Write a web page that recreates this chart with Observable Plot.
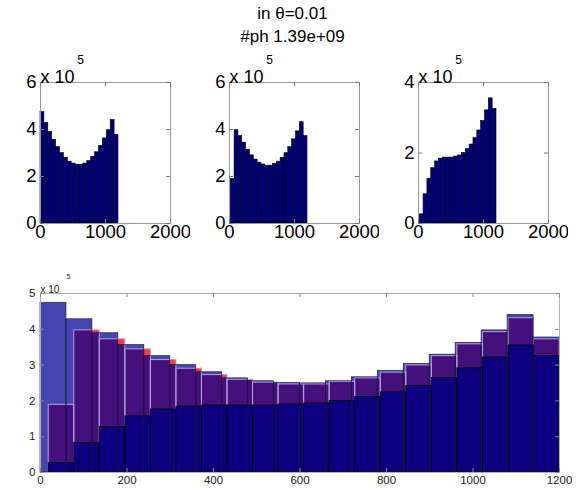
<!DOCTYPE html>
<html>
<head>
<meta charset="utf-8">
<script src="https://cdn.jsdelivr.net/npm/d3@7"></script>
<script src="https://cdn.jsdelivr.net/npm/@observablehq/plot@0.6"></script>
<style>
  html, body { margin: 0; padding: 0; background: #fff; }
  #wrap { position: relative; width: 581px; height: 489px; overflow: hidden; font-family: "Liberation Sans", Arial, sans-serif; }
  .pane { position: absolute; }
  .title { position: absolute; left: 0; width: 581px; text-align: center; font-size: 17px; color: #000; padding-left: 2px; }
</style>
</head>
<body>
<div id="wrap">
  <div class="title" style="top:4px">in θ=0.01</div>
  <div class="title" style="top:27px">#ph 1.39e+09</div>
</div>
<script>
// Histogram counts (units of 1e5), 20 bins each
const seriesA = [4.74, 4.28, 3.89, 3.56, 3.25, 3.00, 2.80, 2.63, 2.55, 2.50, 2.49, 2.55, 2.66, 2.84, 3.03, 3.29, 3.62, 3.97, 4.40, 3.77];
const seriesB = [1.89, 3.97, 3.72, 3.44, 3.14, 2.90, 2.72, 2.59, 2.51, 2.46, 2.46, 2.53, 2.63, 2.79, 2.99, 3.25, 3.58, 3.92, 4.31, 3.72];
const seriesC = [0.26, 0.83, 1.27, 1.57, 1.76, 1.84, 1.87, 1.87, 1.87, 1.90, 1.93, 2.00, 2.11, 2.24, 2.42, 2.64, 2.91, 3.21, 3.55, 3.25];
// bin ranges (data min / max for each histogram)
const rangeA = [0, 1200];
const rangeBC = [19, 1200];
const nBins = 20;
// tick labels
const smallXTicks = [0, 1000, 2000];
const smallYTicks6 = [0, 2, 4, 6];
const smallYTicks4 = [0, 2, 4];
const bigXTicks = [0, 200, 400, 600, 800, 1000, 1200];
const bigYTicks = [0, 1, 2, 3, 4, 5];

function bins(values, range) {
  const w = (range[1] - range[0]) / nBins;
  return values.map((v, i) => ({x1: range[0] + i * w, x2: range[0] + (i + 1) * w, y: v * 1e5}));
}
const dataA = bins(seriesA, rangeA);
const dataB = bins(seriesB, rangeBC);
const dataC = bins(seriesC, rangeBC);

const wrap = document.getElementById("wrap");
function place(svg, left, top) {
  const d = document.createElement("div");
  d.className = "pane";
  d.style.left = left + "px";
  d.style.top = top + "px";
  d.appendChild(svg);
  wrap.appendChild(d);
}

function small(data, ymax, yticks, left) {
  const W = 190, H = 200, mL = 40, mR = 20, mT = 32, mB = 27;
  const iw = W - mL - mR, ih = H - mT - mB;
  const svg = Plot.plot({
    width: W, height: H, marginLeft: mL, marginRight: mR, marginTop: mT, marginBottom: mB,
    style: {fontFamily: "Liberation Sans, Arial, sans-serif", background: "transparent"},
    x: {domain: [0, 2000], label: null},
    y: {domain: [0, ymax * 1e5], label: null},
    marks: [
      Plot.rectY(data, {x1: "x1", x2: "x2", y: "y", fill: "#00007f", stroke: "#000", strokeWidth: 0.6}),
      Plot.frame({stroke: "#9a9a9a"}),
      Plot.tickX(smallXTicks, {x: d => d, insetTop: ih - 4, stroke: "#777"}),
      Plot.tickX(smallXTicks, {x: d => d, insetBottom: ih - 4, stroke: "#777"}),
      Plot.tickY(yticks.map(d => d * 1e5), {y: d => d, insetRight: iw - 4, stroke: "#777"}),
      Plot.tickY(yticks.map(d => d * 1e5), {y: d => d, insetLeft: iw - 4, stroke: "#777"}),
      Plot.axisX(smallXTicks, {tickSize: 0, tickPadding: 1, fontSize: 18.5, fill: "#000", label: null, tickFormat: d => String(d)}),
      Plot.axisY(yticks.map(d => d * 1e5), {tickSize: 0, tickPadding: 4, fontSize: 18.5, fill: "#000", label: null, tickFormat: d => String(d / 1e5)}),
      Plot.text(["x 10"], {frameAnchor: "top-left", dy: -12, textAnchor: "start", fontSize: 18, fill: "#000"}),
      Plot.text(["5"], {frameAnchor: "top-left", dx: 40, dy: -27, textAnchor: "middle", fontSize: 12, fill: "#000"})
    ]
  });
  place(svg, left, 50);
}

small(dataA, 6, smallYTicks6, 0);
small(dataB, 6, smallYTicks6, 189);
small(dataC, 4, smallYTicks4, 378);

// Bottom overlay
(function() {
  const W = 581, H = 219, mL = 40, mR = 22, mT = 23, mB = 17;
  const iw = W - mL - mR, ih = H - mT - mB;
  const svg = Plot.plot({
    width: W, height: H, marginLeft: mL, marginRight: mR, marginTop: mT, marginBottom: mB,
    style: {fontFamily: "Liberation Sans, Arial, sans-serif", background: "transparent"},
    x: {domain: [0, 1200], label: null},
    y: {domain: [0, 5e5], label: null},
    marks: [
      Plot.rectY(dataB, {x1: "x1", x2: "x2", y: "y", fill: "rgb(255,55,55)"}),
      Plot.rectY(dataA, {x1: "x1", x2: "x2", y: "y", fill: "rgb(0,0,150)", fillOpacity: 0.73}),
      Plot.rectY(dataB, {x1: "x1", x2: "x2", y: "y", fill: "none", stroke: "rgb(175,165,220)", strokeWidth: 1}),
      Plot.rectY(dataC, {x1: "x1", x2: "x2", y: "y", fill: "rgb(12,0,128)", stroke: "#000", strokeWidth: 0.8}),
      Plot.rectY(dataA, {x1: "x1", x2: "x2", y: "y", fill: "none", stroke: "rgb(20,20,60)", strokeWidth: 0.8, strokeOpacity: 0.8}),
      Plot.frame({stroke: "#b0b0b0"}),
      Plot.tickX(bigXTicks, {x: d => d, insetTop: ih - 4, stroke: "#888"}),
      Plot.tickX(bigXTicks, {x: d => d, insetBottom: ih - 4, stroke: "#888"}),
      Plot.tickY(bigYTicks.map(d => d * 1e5), {y: d => d, insetRight: iw - 4, stroke: "#888"}),
      Plot.tickY(bigYTicks.map(d => d * 1e5), {y: d => d, insetLeft: iw - 4, stroke: "#888"}),
      Plot.axisX(bigXTicks, {tickSize: 0, tickPadding: 3, fontSize: 11.5, fill: "#222", label: null, tickFormat: d => String(d)}),
      Plot.axisY(bigYTicks.map(d => d * 1e5), {tickSize: 0, tickPadding: 5, fontSize: 11.5, fill: "#222", label: null, tickFormat: d => String(d / 1e5)}),
      Plot.text(["x 10"], {frameAnchor: "top-left", dy: -8, textAnchor: "start", fontSize: 10, fill: "#222"}),
      Plot.text(["5"], {frameAnchor: "top-left", dx: 28, dy: -19, textAnchor: "middle", fontSize: 7, fill: "#222"})
    ]
  });
  place(svg, 0, 270);
})();
</script>
</body>
</html>
